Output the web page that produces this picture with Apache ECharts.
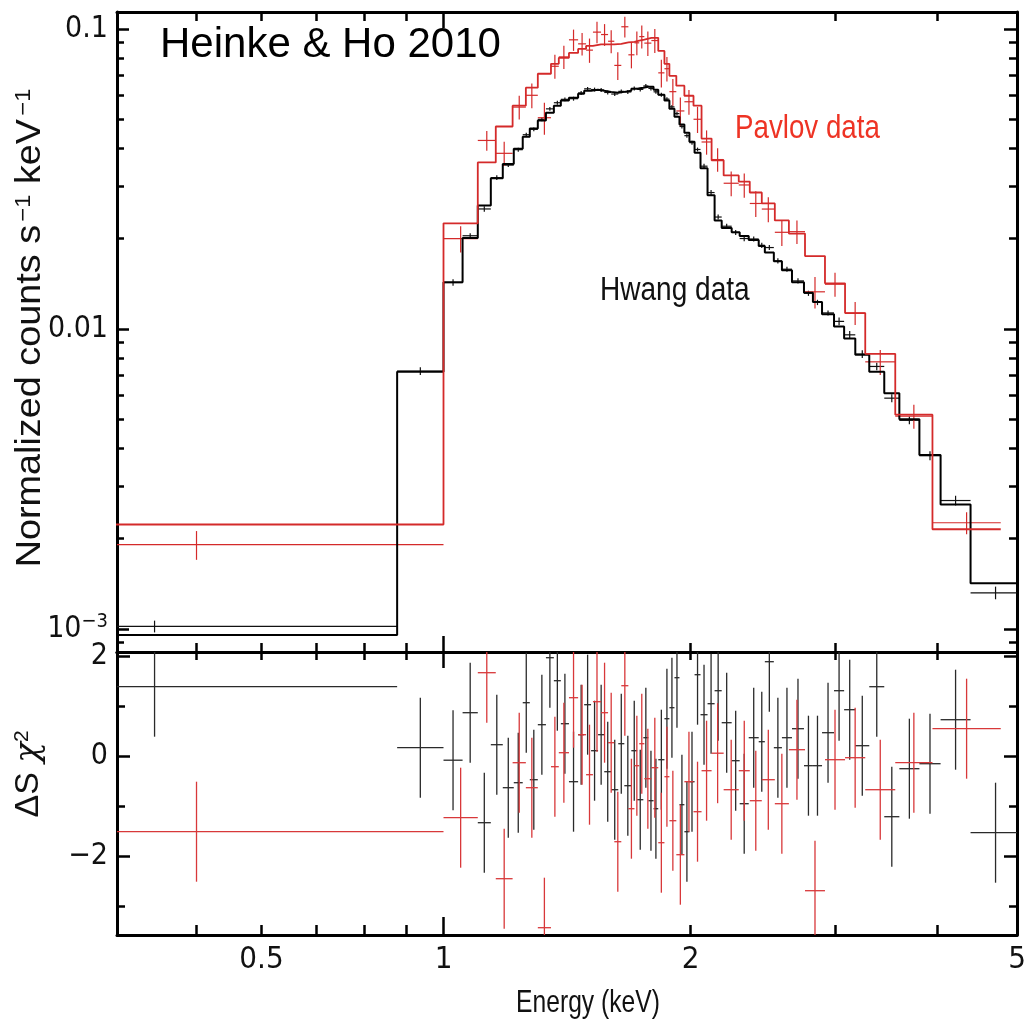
<!DOCTYPE html>
<html><head><meta charset="utf-8">
<script src="https://cdn.jsdelivr.net/npm/echarts@6/dist/echarts.min.js"></script>
<style>html,body{margin:0;padding:0;background:#fff}#c{width:1029px;height:1031px}</style>
</head><body><div id="c"></div>
<script>
// ---------- data (keV bins, normalized counts s^-1 keV^-1, delta-chi residuals) ----------
const hwangEdges = [0.225, 0.878, 1.0, 1.055, 1.101, 1.142, 1.181, 1.218, 1.249, 1.274, 1.303, 1.333, 1.363, 1.390, 1.422, 1.459, 1.484, 1.513, 1.543, 1.570, 1.601, 1.633, 1.661, 1.694, 1.722, 1.752, 1.777, 1.803, 1.827, 1.859, 1.885, 1.912, 1.939, 1.966, 1.994, 2.023, 2.057, 2.098, 2.140, 2.183, 2.245, 2.296, 2.355, 2.422, 2.464, 2.527, 2.585, 2.659, 2.750, 2.820, 2.893, 2.992, 3.078, 3.176, 3.303, 3.445, 3.594, 3.802, 4.035, 4.389, 5.05];
const hwangModel = [0.000955, 0.0072, 0.0143, 0.0201, 0.0258, 0.0318, 0.0355, 0.0399, 0.0437, 0.0466, 0.0495, 0.0526, 0.0555, 0.0577, 0.0590, 0.0608, 0.0622, 0.0627, 0.0622, 0.0617, 0.0613, 0.0617, 0.0622, 0.0632, 0.0637, 0.0642, 0.0642, 0.0627, 0.0604, 0.0577, 0.0542, 0.0510, 0.0480, 0.0451, 0.0421, 0.0387, 0.0343, 0.0279, 0.0230, 0.0217, 0.0210, 0.0204, 0.0198, 0.0189, 0.0180, 0.0168, 0.0157, 0.0143, 0.0132, 0.0123, 0.0112, 0.0102, 0.0093, 0.0082, 0.0072, 0.0061, 0.0050, 0.0038, 0.0026, 0.00142];
const hwangData = [0.00102, 0.00724, 0.01428, 0.02045, 0.02512, 0.03194, 0.03517, 0.03959, 0.04441, 0.04628, 0.04998, 0.05416, 0.05677, 0.05827, 0.05856, 0.0612, 0.06317, 0.06281, 0.06261, 0.06142, 0.06069, 0.06194, 0.06166, 0.06331, 0.06288, 0.06457, 0.06335, 0.06172, 0.06035, 0.05836, 0.0550, 0.05221, 0.04731, 0.04409, 0.04178, 0.03965, 0.03488, 0.02849, 0.02361, 0.0220, 0.02097, 0.02002, 0.01995, 0.01901, 0.01868, 0.01686, 0.01582, 0.01446, 0.01315, 0.01226, 0.01131, 0.0106, 0.00956, 0.00825, 0.0075, 0.00588, 0.00496, 0.00378, 0.00268, 0.00132];
const hwangErr = [0.000046, 0.00022, 0.00036, 0.0004, 0.00052, 0.00057, 0.00053, 0.0006, 0.00066, 0.0007, 0.00074, 0.00079, 0.00083, 0.00087, 0.00089, 0.00091, 0.00093, 0.00094, 0.00093, 0.00093, 0.00092, 0.00093, 0.00093, 0.00095, 0.00096, 0.00096, 0.00096, 0.00094, 0.00091, 0.00087, 0.00081, 0.00077, 0.00072, 0.00068, 0.00063, 0.00058, 0.00069, 0.00056, 0.00046, 0.00043, 0.00042, 0.00041, 0.0004, 0.00038, 0.00036, 0.00034, 0.00031, 0.00029, 0.00026, 0.00025, 0.00022, 0.00031, 0.00028, 0.00025, 0.00022, 0.00018, 0.00015, 0.00013, 0.0001, 0.000064];
const hwangResid = [1.4, 0.18, -0.07, 0.88, -1.32, 0.24, -0.62, -0.52, 1.08, -0.46, 0.64, 1.98, 1.52, 0.66, -0.5, 0.44, 1.04, 0.12, 0.44, -0.3, -0.66, 0.26, -0.58, 0.12, -0.86, 0.38, -0.88, -1.04, -0.06, 0.76, 0.98, 1.58, -0.96, -1.5, -0.5, 1.64, 0.84, 1.06, 1.32, 0.68, -0.08, -0.94, 0.38, 0.3, 1.9, 0.18, 0.38, 0.56, -0.18, -0.18, 0.48, 1.32, 0.94, 0.22, 1.4, -1.2, -0.24, -0.14, 0.74, -1.52];

const pavlovEdges = [0.25, 1.0, 1.101, 1.158, 1.214, 1.260, 1.303, 1.352, 1.382, 1.422, 1.459, 1.492, 1.521, 1.556, 1.587, 1.615, 1.647, 1.680, 1.709, 1.732, 1.757, 1.792, 1.827, 1.859, 1.885, 1.922, 1.966, 2.017, 2.063, 2.122, 2.195, 2.290, 2.362, 2.443, 2.534, 2.636, 2.758, 2.917, 3.086, 3.266, 3.553, 3.944, 4.777];
const pavlovModel = [0.00223, 0.0225, 0.0359, 0.0473, 0.0555, 0.0637, 0.0709, 0.0765, 0.0801, 0.0832, 0.0858, 0.0878, 0.0888, 0.0888, 0.0888, 0.0892, 0.0902, 0.0905, 0.0914, 0.0922, 0.0934, 0.0934, 0.0845, 0.0765, 0.0698, 0.0647, 0.0599, 0.0555, 0.0431, 0.0365, 0.0325, 0.0310, 0.0285, 0.0262, 0.0230, 0.0208, 0.0175, 0.0142, 0.0113, 0.00826, 0.00518, 0.00215];
const pavlovData = [0.00191, 0.0200, 0.0425, 0.0385, 0.0549, 0.0601, 0.0506, 0.0751, 0.0807, 0.0920, 0.0892, 0.0850, 0.0976, 0.0958, 0.0910, 0.0756, 0.1017, 0.0820, 0.0899, 0.0943, 0.0897, 0.0915, 0.0714, 0.0737, 0.0618, 0.0533, 0.0572, 0.0500, 0.0420, 0.0367, 0.0306, 0.0302, 0.0262, 0.0251, 0.0210, 0.0211, 0.0133, 0.0141, 0.0113, 0.00777, 0.00512, 0.00226];
const pavlovErr = [0.00021, 0.0020, 0.0032, 0.0036, 0.0050, 0.0057, 0.0062, 0.0069, 0.0072, 0.0075, 0.0077, 0.0079, 0.0080, 0.0080, 0.0080, 0.0080, 0.0081, 0.0081, 0.0082, 0.0083, 0.0084, 0.0084, 0.0076, 0.0069, 0.0063, 0.0058, 0.0054, 0.0050, 0.0039, 0.0033, 0.0029, 0.0028, 0.0026, 0.0024, 0.0021, 0.0019, 0.0016, 0.0013, 0.0010, 0.00074, 0.00047, 0.00019];
const pavlovResid = [-1.5, -1.22, 1.68, -2.44, -0.12, -0.62, -3.42, -0.2, 0.08, 1.18, 0.44, -0.36, 1.1, 0.88, 0.28, -1.7, 1.42, -1.04, -0.18, 0.26, -0.44, -0.22, -1.72, -0.4, -1.28, -1.96, -0.5, -1.1, -0.28, 0.07, -0.66, -0.28, -0.88, -0.46, -0.94, 0.14, -2.68, -0.06, -0.02, -0.66, -0.12, 0.56];
const RESID_ERR = 1; // delta-chi residual error bars are +/-1

// axis ranges and ticks
const X_MIN = 0.4, X_MAX = 5;
const xMajorTicks = [1];
const xMinorTicks = [0.5, 0.6, 0.7, 0.8, 0.9, 2, 3, 4, 5];
const xLabelVals = [0.6, 1, 2, 5];
const xLabelText = ['0.5', '1', '2', '5'];
const Y1_MIN = 0.000838, Y1_MAX = 0.1139;
const y1MajorTicks = [0.001, 0.01, 0.1];
const y1MinorTicks = [0.0009, 0.002, 0.003, 0.004, 0.005, 0.006, 0.007, 0.008, 0.009, 0.02, 0.03, 0.04, 0.05, 0.06, 0.07, 0.08, 0.09];
const y1LabelText = ['10{s|−3}', '0.01', '0.1'];
const Y2_MIN = -3.566, Y2_MAX = 2.094;
const y2MajorTicks = [-2, 0, 2];
const y2MinorTicks = [-3, -1, 1];
const y2LabelText = ['−2', '0', '2'];

// ---------- styling ----------
const NARROW = "'Liberation Sans Narrow','Arial Narrow','DejaVu Sans Condensed','Liberation Sans',sans-serif";
const SANS = "'Liberation Sans',Arial,Helvetica,sans-serif";
const RED = '#d42a2a';

function lookup(vals, texts, v) {
  for (let i = 0; i < vals.length; i++) if (Math.abs(vals[i] - v) <= 1e-6 * Math.max(1, Math.abs(v))) return texts[i];
  return '';
}
function axisCommon(len, ticks, line) {
  return {
    axisLine: {show: line, onZero: false, lineStyle: {color: '#000', width: 3}},
    axisTick: {show: true, inside: true, length: len, customValues: ticks, lineStyle: {color: '#000', width: 2.5}},
    splitLine: {show: false}, minorTick: {show: false}, minorSplitLine: {show: false},
    axisPointer: {show: false}
  };
}
function xAx(grid, pos, len, ticks, line, label) {
  return Object.assign({type: 'log', logBase: 10, gridIndex: grid, position: pos, min: X_MIN, max: X_MAX,
    axisLabel: label || {show: false}}, axisCommon(len, ticks, line));
}
function yAx(grid, type, min, max, pos, len, ticks, line, label) {
  const o = Object.assign({type: type, gridIndex: grid, position: pos, min: min, max: max,
    axisLabel: label || {show: false}}, axisCommon(len, ticks, line));
  if (type === 'log') o.logBase = 10;
  return o;
}

const xLabel = {show: true, customValues: xLabelVals, margin: 9, color: '#111', fontSize: 31, fontFamily: NARROW,
  formatter: v => lookup(xLabelVals, xLabelText, v)};
const y1Label = {show: true, customValues: y1MajorTicks, margin: 9, color: '#111', fontSize: 30, fontFamily: NARROW,
  formatter: v => lookup(y1MajorTicks, y1LabelText, v),
  rich: {s: {fontSize: 20, fontFamily: NARROW, color: '#111', verticalAlign: 'top', padding: [0, 0, 14, 0]}}};
const y2Label = {show: true, customValues: y2MajorTicks, margin: 9, color: '#111', fontSize: 30, fontFamily: NARROW,
  formatter: v => lookup(y2MajorTicks, y2LabelText, v)};

const xAxes = [
  xAx(0, 'bottom', 9, xMinorTicks, true), xAx(0, 'bottom', 16, xMajorTicks, false),
  xAx(0, 'top', 9, xMinorTicks, true), xAx(0, 'top', 16, xMajorTicks, false),
  xAx(1, 'bottom', 10, xMinorTicks, true, xLabel), xAx(1, 'bottom', 18, xMajorTicks, false),
  xAx(1, 'top', 8, xMinorTicks, true), xAx(1, 'top', 16, xMajorTicks, false)
];
const yAxes = [
  yAx(0, 'log', Y1_MIN, Y1_MAX, 'left', 7, y1MinorTicks, true), yAx(0, 'log', Y1_MIN, Y1_MAX, 'left', 12, y1MajorTicks, false, y1Label),
  yAx(0, 'log', Y1_MIN, Y1_MAX, 'right', 8, y1MinorTicks, true), yAx(0, 'log', Y1_MIN, Y1_MAX, 'right', 13, y1MajorTicks, false),
  yAx(1, 'value', Y2_MIN, Y2_MAX, 'left', 8, y2MinorTicks, true), yAx(1, 'value', Y2_MIN, Y2_MAX, 'left', 13, y2MajorTicks, false, y2Label),
  yAx(1, 'value', Y2_MIN, Y2_MAX, 'right', 8, y2MinorTicks, true), yAx(1, 'value', Y2_MIN, Y2_MAX, 'right', 13, y2MajorTicks, false)
];

// ---------- series builders ----------
function stepPoints(edges, vals) {
  const pts = vals.map((v, i) => [edges[i], v]);
  pts.push([edges[edges.length - 1], vals[vals.length - 1]]);
  return pts;
}
function crossItems(edges, vals, errs) {
  return vals.map((v, i) => {
    const lo = edges[i], hi = edges[i + 1];
    const e = Array.isArray(errs) ? errs[i] : errs;
    return [Math.sqrt(lo * hi), v, lo, hi, v - e, v + e];
  });
}
function crossSeries(name, xi, yi, items, color, width) {
  return {
    type: 'custom', name: name, xAxisIndex: xi, yAxisIndex: yi, data: items, silent: true, animation: false,
    encode: {x: 0, y: 1},
    renderItem: function (params, api) {
      const cs = params.coordSys;
      const cx = v => Math.max(cs.x, Math.min(cs.x + cs.width, v));
      const cy = v => Math.max(cs.y, Math.min(cs.y + cs.height, v));
      const c = api.coord([api.value(0), api.value(1)]);
      const l = api.coord([api.value(2), api.value(1)]);
      const r = api.coord([api.value(3), api.value(1)]);
      const t = api.coord([api.value(0), api.value(5)]);
      const b = api.coord([api.value(0), api.value(4)]);
      const st = {stroke: color, lineWidth: width};
      const ch = [];
      if (c[1] >= cs.y && c[1] <= cs.y + cs.height)
        ch.push({type: 'line', shape: {x1: cx(l[0]), y1: c[1], x2: cx(r[0]), y2: c[1]}, style: st});
      ch.push({type: 'line', shape: {x1: c[0], y1: cy(t[1]), x2: c[0], y2: cy(b[1])}, style: st});
      return {type: 'group', children: ch};
    }
  };
}
function stepSeries(name, edges, vals, color, width) {
  return {type: 'line', name: name, xAxisIndex: 0, yAxisIndex: 0, step: 'end', showSymbol: false, symbol: 'none',
    data: stepPoints(edges, vals), clip: true, silent: true, animation: false,
    lineStyle: {color: color, width: width}};
}
function txt(x, y, text, size, fill, align, sx) {
  return {type: 'text', x: x, y: y, scaleX: sx, scaleY: 1, silent: true,
    style: {text: text, font: size + 'px ' + SANS, fill: fill, align: align, verticalAlign: 'middle', textAlign: align, textVerticalAlign: 'middle'}};
}

const option = {
  animation: false,
  backgroundColor: '#fff',
  grid: [
    {left: 117, top: 12, width: 900, height: 640},
    {left: 117, top: 652, width: 900, height: 283}
  ],
  xAxis: xAxes,
  yAxis: yAxes,
  series: [
    stepSeries('Hwang model', hwangEdges, hwangModel, '#000', 2),
    crossSeries('Hwang data', 0, 0, crossItems(hwangEdges, hwangData, hwangErr), '#111', 1.2),
    stepSeries('Pavlov model', pavlovEdges, pavlovModel, RED, 1.8),
    crossSeries('Pavlov data', 0, 0, crossItems(pavlovEdges, pavlovData, pavlovErr), RED, 1.2),
    crossSeries('Hwang residuals', 4, 4, crossItems(hwangEdges, hwangResid, RESID_ERR), '#2a2a2a', 1.3),
    crossSeries('Pavlov residuals', 4, 4, crossItems(pavlovEdges, pavlovResid, RESID_ERR), '#d8383a', 1.3)
  ],
  graphic: [
    txt(160, 45, 'Heinke & Ho 2010', 42, '#000', 'left', 1),
    txt(735, 129, 'Pavlov data', 33, '#ee3324', 'left', 0.84),
    txt(600, 291, 'Hwang data', 33, '#111', 'left', 0.85),
    txt(588, 1003, 'Energy (keV)', 32, '#111', 'center', 0.77),
    {type: 'text', x: 30, y: 328, rotation: Math.PI / 2, scaleX: 1.08, silent: true,
      style: {text: '{a|Normalized counts s}{b|−1}{a| keV}{b|−1}', align: 'center', verticalAlign: 'middle', textAlign: 'center', textVerticalAlign: 'middle',
        rich: {a: {fontSize: 35, fontFamily: SANS, fill: '#111'}, b: {fontSize: 22, fontFamily: SANS, fill: '#111', verticalAlign: 'top', padding: [0, 0, 0, 3]}}}},
    {type: 'text', x: 29, y: 774, rotation: Math.PI / 2, silent: true,
      style: {text: '{a|ΔS }{i|χ}{b|2}', align: 'center', verticalAlign: 'middle', textAlign: 'center', textVerticalAlign: 'middle',
        rich: {a: {fontSize: 34, fontFamily: SANS, fill: '#111'}, i: {fontSize: 34, fontFamily: "'DejaVu Serif',serif", fontStyle: 'italic', fill: '#111'}, b: {fontSize: 21, fontFamily: SANS, fill: '#111', verticalAlign: 'top'}}}}
  ]
};
const chart = echarts.init(document.getElementById('c'), null, {renderer: 'canvas', width: 1029, height: 1031});
chart.setOption(option);
</script>
</body></html>
